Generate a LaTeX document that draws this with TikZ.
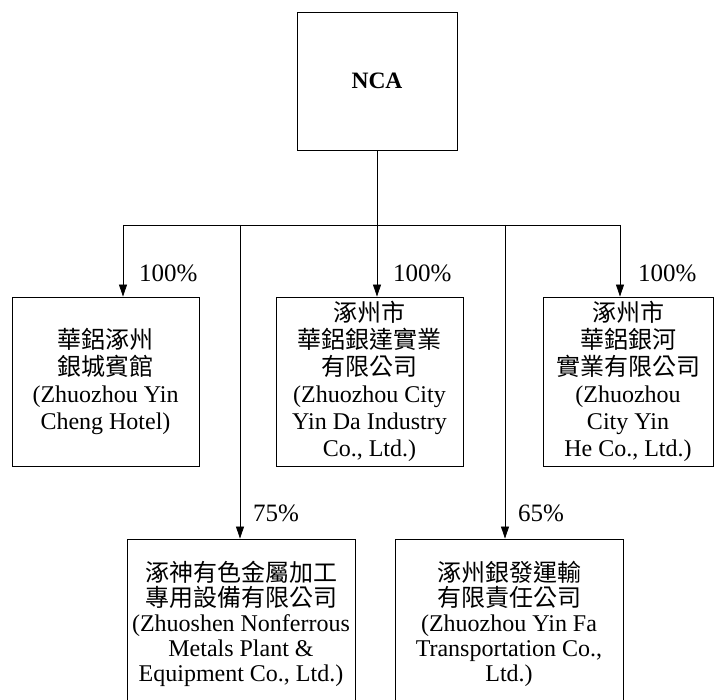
\documentclass[tikz,border=0pt]{standalone}
\usepackage{fontspec}
\setmainfont{Liberation Serif}
\newfontfamily\cjk{Noto Sans CJK TC}
\usetikzlibrary{arrows.meta}
\begin{document}
\begin{tikzpicture}[x=1pt,y=-1pt,
  box/.style={draw, line width=0.9pt, inner sep=0pt, align=center},
  topbox/.style={box, minimum height=169pt, font=\fontsize{24}{27}\selectfont},
  botbox/.style={box, minimum height=169pt, font=\fontsize{24}{25}\selectfont},
  lbl/.style={font=\fontsize{25}{25}\selectfont, anchor=west, inner sep=0pt},
  link/.style={line width=0.8pt},
  arr/.style={line width=0.8pt, -{Triangle[length=12pt,width=8pt]}}]
\useasboundingbox (0,0) rectangle (720,700);
\clip (0,0) rectangle (720,700);
\fill[white] (0,0) rectangle (720,700);

\node[box, minimum width=160pt, minimum height=138pt,
      font=\bfseries\fontsize{23.5}{27}\selectfont] (nca) at (377,81) {NCA};

\node[topbox, minimum width=187pt] (b1) at (105.5,381.5)
  {{\cjk 華鋁涿州}\\{\cjk 銀城賓館}\\(Zhuozhou Yin\\Cheng Hotel)};
\node[topbox, minimum width=187pt] (b2) at (369.5,381.5)
  {{\cjk 涿州市}\\{\cjk 華鋁銀達實業}\\{\cjk 有限公司}\\(Zhuozhou City\\Yin Da Industry\\Co., Ltd.)};
\node[topbox, minimum width=170pt] (b3) at (628,381.5)
  {{\cjk 涿州市}\\{\cjk 華鋁銀河}\\{\cjk 實業有限公司}\\(Zhuozhou\\City Yin\\He Co., Ltd.)};
\node[botbox, minimum width=228pt] (b4) at (241,623.5)
  {{\cjk 涿神有色金屬加工}\\{\cjk 專用設備有限公司}\\(Zhuoshen Nonferrous\\Metals Plant \&\\Equipment Co., Ltd.)};
\node[botbox, minimum width=228pt] (b5) at (509,623.5)
  {{\cjk 涿州銀發運輸}\\{\cjk 有限責任公司}\\(Zhuozhou Yin Fa\\Transportation Co.,\\Ltd.)};

\coordinate (j0) at (377,225);
\coordinate (j1) at (123,225);
\coordinate (j2) at (240,225);
\coordinate (j3) at (505,225);
\coordinate (j4) at (620,225);

\draw[link] (nca.south) -- (j0);
\draw[link] (j1) -- (j4);
\draw[arr] (j1) -- (j1 |- b1.north);
\draw[arr] (j0) -- (j0 |- b2.north);
\draw[arr] (j4) -- (j4 |- b3.north);
\draw[arr] (j2) -- (j2 |- b4.north);
\draw[arr] (j3) -- (j3 |- b5.north);

\node[lbl] (p1) at (139,273) {100\%};
\node[lbl] (p2) at (393,273) {100\%};
\node[lbl] (p3) at (638,273) {100\%};
\node[lbl] (p4) at (253,513) {75\%};
\node[lbl] (p5) at (518,513) {65\%};
\end{tikzpicture}
\end{document}
